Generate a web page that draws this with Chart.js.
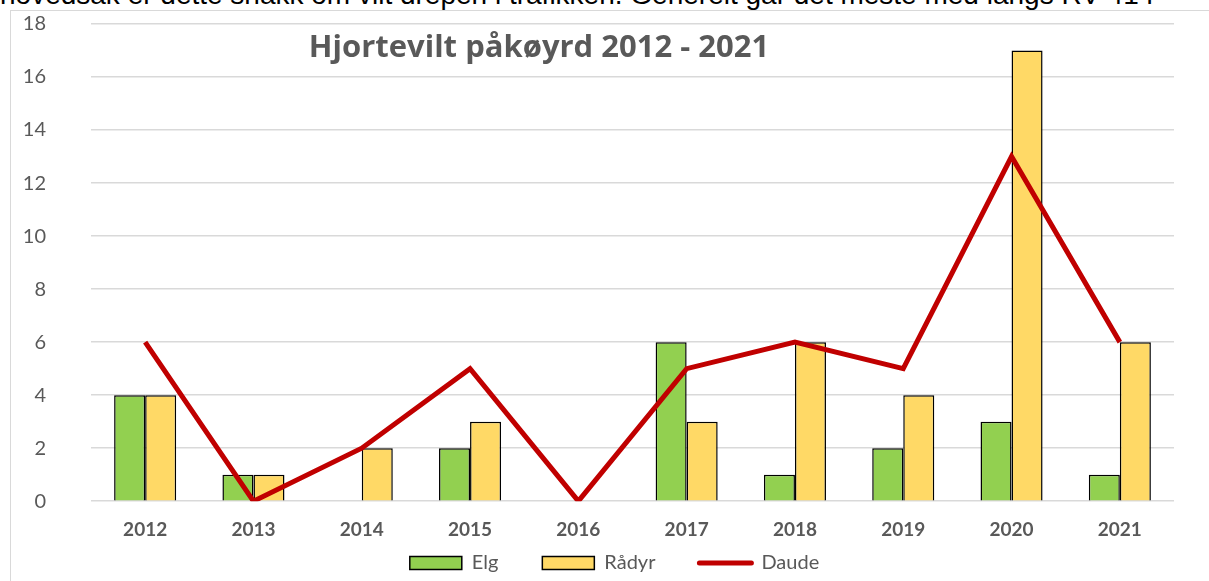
<!DOCTYPE html>
<html>
<head>
<meta charset="utf-8">
<script src="https://cdn.jsdelivr.net/npm/chart.js@4/dist/chart.umd.min.js"></script>
<style>
    html, body { margin: 0; padding: 0; background: #fff; overflow: hidden; }
    body { width: 1209px; height: 581px; position: relative; }
    #intro {
        position: absolute; left: 0; top: -19px; white-space: nowrap;
        font-family: "Liberation Sans", Arial, sans-serif; font-size: 28px; line-height: 28px; color: #000;
    }
    #box {
        position: absolute; left: 10px; top: 10px; width: 1200px; height: 610px;
        border: 1px solid #d9d9d9; background: #fff;
    }
</style>
</head>
<body>
<div id="intro">hovedsak er dette snakk om vilt drepen i trafikken. Generelt går det meste med langs RV 41 i</div>
<div id="box"><canvas id="chart" width="1200" height="572"></canvas></div>
<script>
const years = ["2012", "2013", "2014", "2015", "2016", "2017", "2018", "2019", "2020", "2021"];
const elg = [4, 1, 0, 2, 0, 6, 1, 2, 3, 1];
const radyr = [4, 1, 2, 3, 0, 3, 6, 4, 17, 6];
const daude = [6, 0, 2, 5, 0, 5, 6, 5, 13, 6];
const chartTitle = "Hjortevilt påkøyrd 2012 - 2021";

const grey = "#595959";

// title sits inside the plot area, like the Excel original
const titleInside = {
    id: "titleInside",
    afterDraw(chart) {
        const c = chart.ctx;
        c.save();
        c.font = "bold 31px 'Open Sans', sans-serif";
        c.fillStyle = grey;
        c.textAlign = "center";
        c.textBaseline = "middle";
        c.fillText(chartTitle, 528, 37);
        c.restore();
    }
};

// the original chart is wider than the crop, so its legend sits a bit right of our centre
const legendShift = {
    id: "legendShift",
    afterLayout(chart) {
        chart.legend.left += 22;
        chart.legend.right += 22;
    }
};

document.addEventListener("DOMContentLoaded", function () {
    const ctx = document.getElementById("chart").getContext("2d");

    new Chart(ctx, {
        type: "bar",
        data: {
            labels: years,
            datasets: [
                {
                    label: "Elg",
                    data: elg,
                    backgroundColor: "#92d050",
                    borderColor: "#000",
                    borderWidth: 1.5,
                    order: 1,
                },
                {
                    label: "Rådyr",
                    data: radyr,
                    backgroundColor: "#ffd966",
                    borderColor: "#000",
                    borderWidth: 1.5,
                    order: 2,
                },
                {
                    type: "line",
                    label: "Daude",
                    data: daude,
                    borderColor: "#c00000",
                    backgroundColor: "#c00000",
                    borderWidth: 5,
                    pointRadius: 0,
                    tension: 0,
                    order: 0,
                },
            ],
        },
        options: {
            responsive: false,
            animation: false,
            categoryPercentage: 0.573,
            barPercentage: 1,
            layout: { padding: { left: 0, right: 37, top: 13, bottom: 0 } },
            plugins: {
                tooltip: { enabled: false },
                title: { display: false },
                legend: {
                    position: "bottom",
                    labels: {
                        usePointStyle: true,
                        pointStyleWidth: 52,
                        boxHeight: 13,
                        padding: 3,
                        color: grey,
                        font: { family: "Lato, sans-serif", size: 20 },
                        sort: (a, b) => a.datasetIndex - b.datasetIndex,
                        generateLabels(chart) {
                            const items = Chart.defaults.plugins.legend.labels.generateLabels(chart);
                            items.forEach((it) => {
                                if (it.datasetIndex === 2) {
                                    it.pointStyle = "line";
                                    it.lineWidth = 5;
                                    it.lineCap = "round";
                                } else {
                                    it.pointStyle = "rect";
                                    it.lineWidth = 1.5;
                                    it.text = it.text + "        "; // wider gap between legend entries
                                }
                            });
                            return items;
                        },
                    },
                },
            },
            scales: {
                x: {
                    grid: { display: false },
                    border: { display: false },
                    ticks: {
                        color: grey,
                        padding: 9,
                        font: { family: "Lato, sans-serif", size: 19, weight: "bold" },
                    },
                },
                y: {
                    min: 0,
                    max: 18,
                    ticks: {
                        stepSize: 2,
                        color: grey,
                        padding: 45,
                        font: { family: "Lato, sans-serif", size: 20 },
                    },
                    grid: { color: "#d9d9d9", lineWidth: 1.5, drawTicks: false },
                    border: { display: false },
                    afterFit(scale) {
                        scale.width = 80;
                        // big label gap should not push the plot down
                        scale.paddingTop = 10;
                        scale.paddingBottom = 10;
                    },
                },
            },
        },
        plugins: [titleInside, legendShift],
    });
});
</script>
</body>
</html>
